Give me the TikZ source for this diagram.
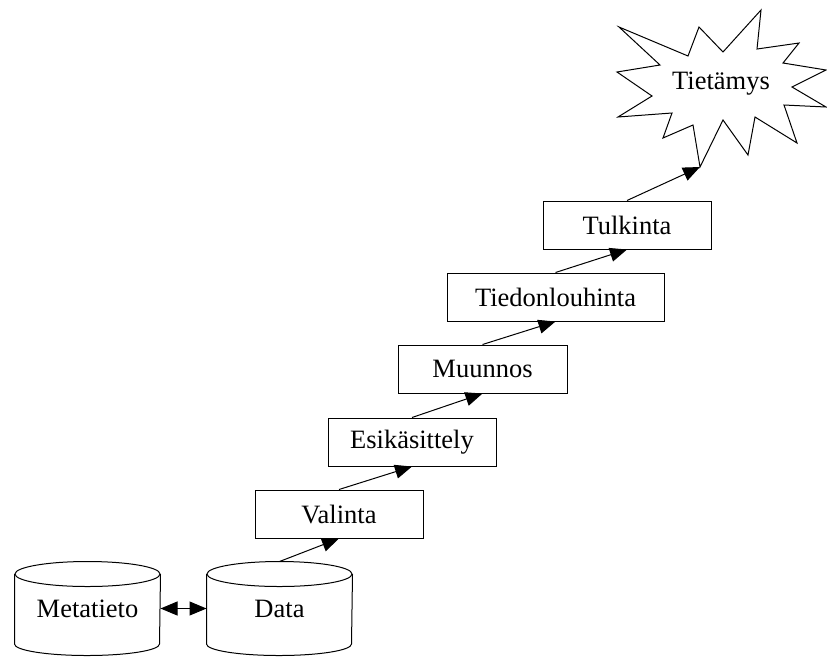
\documentclass[tikz,border=0pt]{standalone}
\usepackage{fontspec}
\setmainfont{Liberation Serif}
\usetikzlibrary{arrows.meta}
\begin{document}
\begin{tikzpicture}[x=1pt,y=-1pt,
  line width=1pt,
  every node/.style={font=\fontsize{26.5}{30}\selectfont},
  stepbox/.style={draw,rectangle,minimum height=48pt,inner sep=0pt},
  store/.style={rectangle,minimum width=145pt,minimum height=93pt,inner sep=0pt},
  flow/.style={-{Triangle[length=17pt,width=14pt]}},
  link/.style={{Triangle[length=17pt,width=14pt]}-{Triangle[length=17pt,width=14pt]}}]
\useasboundingbox (0,0) rectangle (827,657);

% data stores: a node for the label, the drum drawn round it
\newcommand{\drum}[1]{%
  \draw ([yshift=-12.5pt]#1.north) ellipse [x radius=72.5pt, y radius=12.5pt];
  \draw ([yshift=-12.5pt]#1.north west) -- ([yshift=11.5pt]#1.south west)
     arc [start angle=180, end angle=360, x radius=72.5pt, y radius=11.5pt]
     -- ([yshift=-12.5pt]#1.north east);}
\node[store] (meta) at (87.5,608.5) {Metatieto};
\node[store] (data) at (279.5,608.5) {Data};
\drum{meta}
\drum{data}

% process steps
\node[stepbox,minimum width=168pt] (val) at (339,514) {Valinta};
\node[stepbox,minimum width=168pt] (esi) at (412,442) {Esikäsittely};
\node[stepbox,minimum width=169pt] (muu) at (482.5,369) {Muunnos};
\node[stepbox,minimum width=217pt] (tie) at (555.5,297) {Tiedonlouhinta};
\node[stepbox,minimum width=168pt] (tul) at (627,225) {Tulkinta};

% knowledge burst
\draw (619,27) -- (688,56) -- (699,27) -- (723,52) -- (761,10) -- (757,49)
  -- (799,43) -- (783,63) -- (826,70) -- (792,87) -- (826,107) -- (784,105)
  -- (797,143) -- (755,117) -- (748,155) -- (723,120) -- (700,167)
  -- (693,125) -- (663,138) -- (672,113) -- (618,117) -- (652,96)
  -- (617,72) -- (660,65) -- cycle;
\node (know) at (721,84) {Tietämys};
\coordinate (burst) at (700,167);

% connectors
\draw[link] (meta.east) -- (data.west);
\draw[flow] (data.north) -- (val.south);
\draw[flow] (val.north) -- (esi.south);
\draw[flow] (esi.north) -- (muu.south);
\draw[flow] (muu.north) -- (tie.south);
\draw[flow] (tie.north) -- (tul.south);
\draw[flow] (tul.north) -- (burst);
\end{tikzpicture}
\end{document}
